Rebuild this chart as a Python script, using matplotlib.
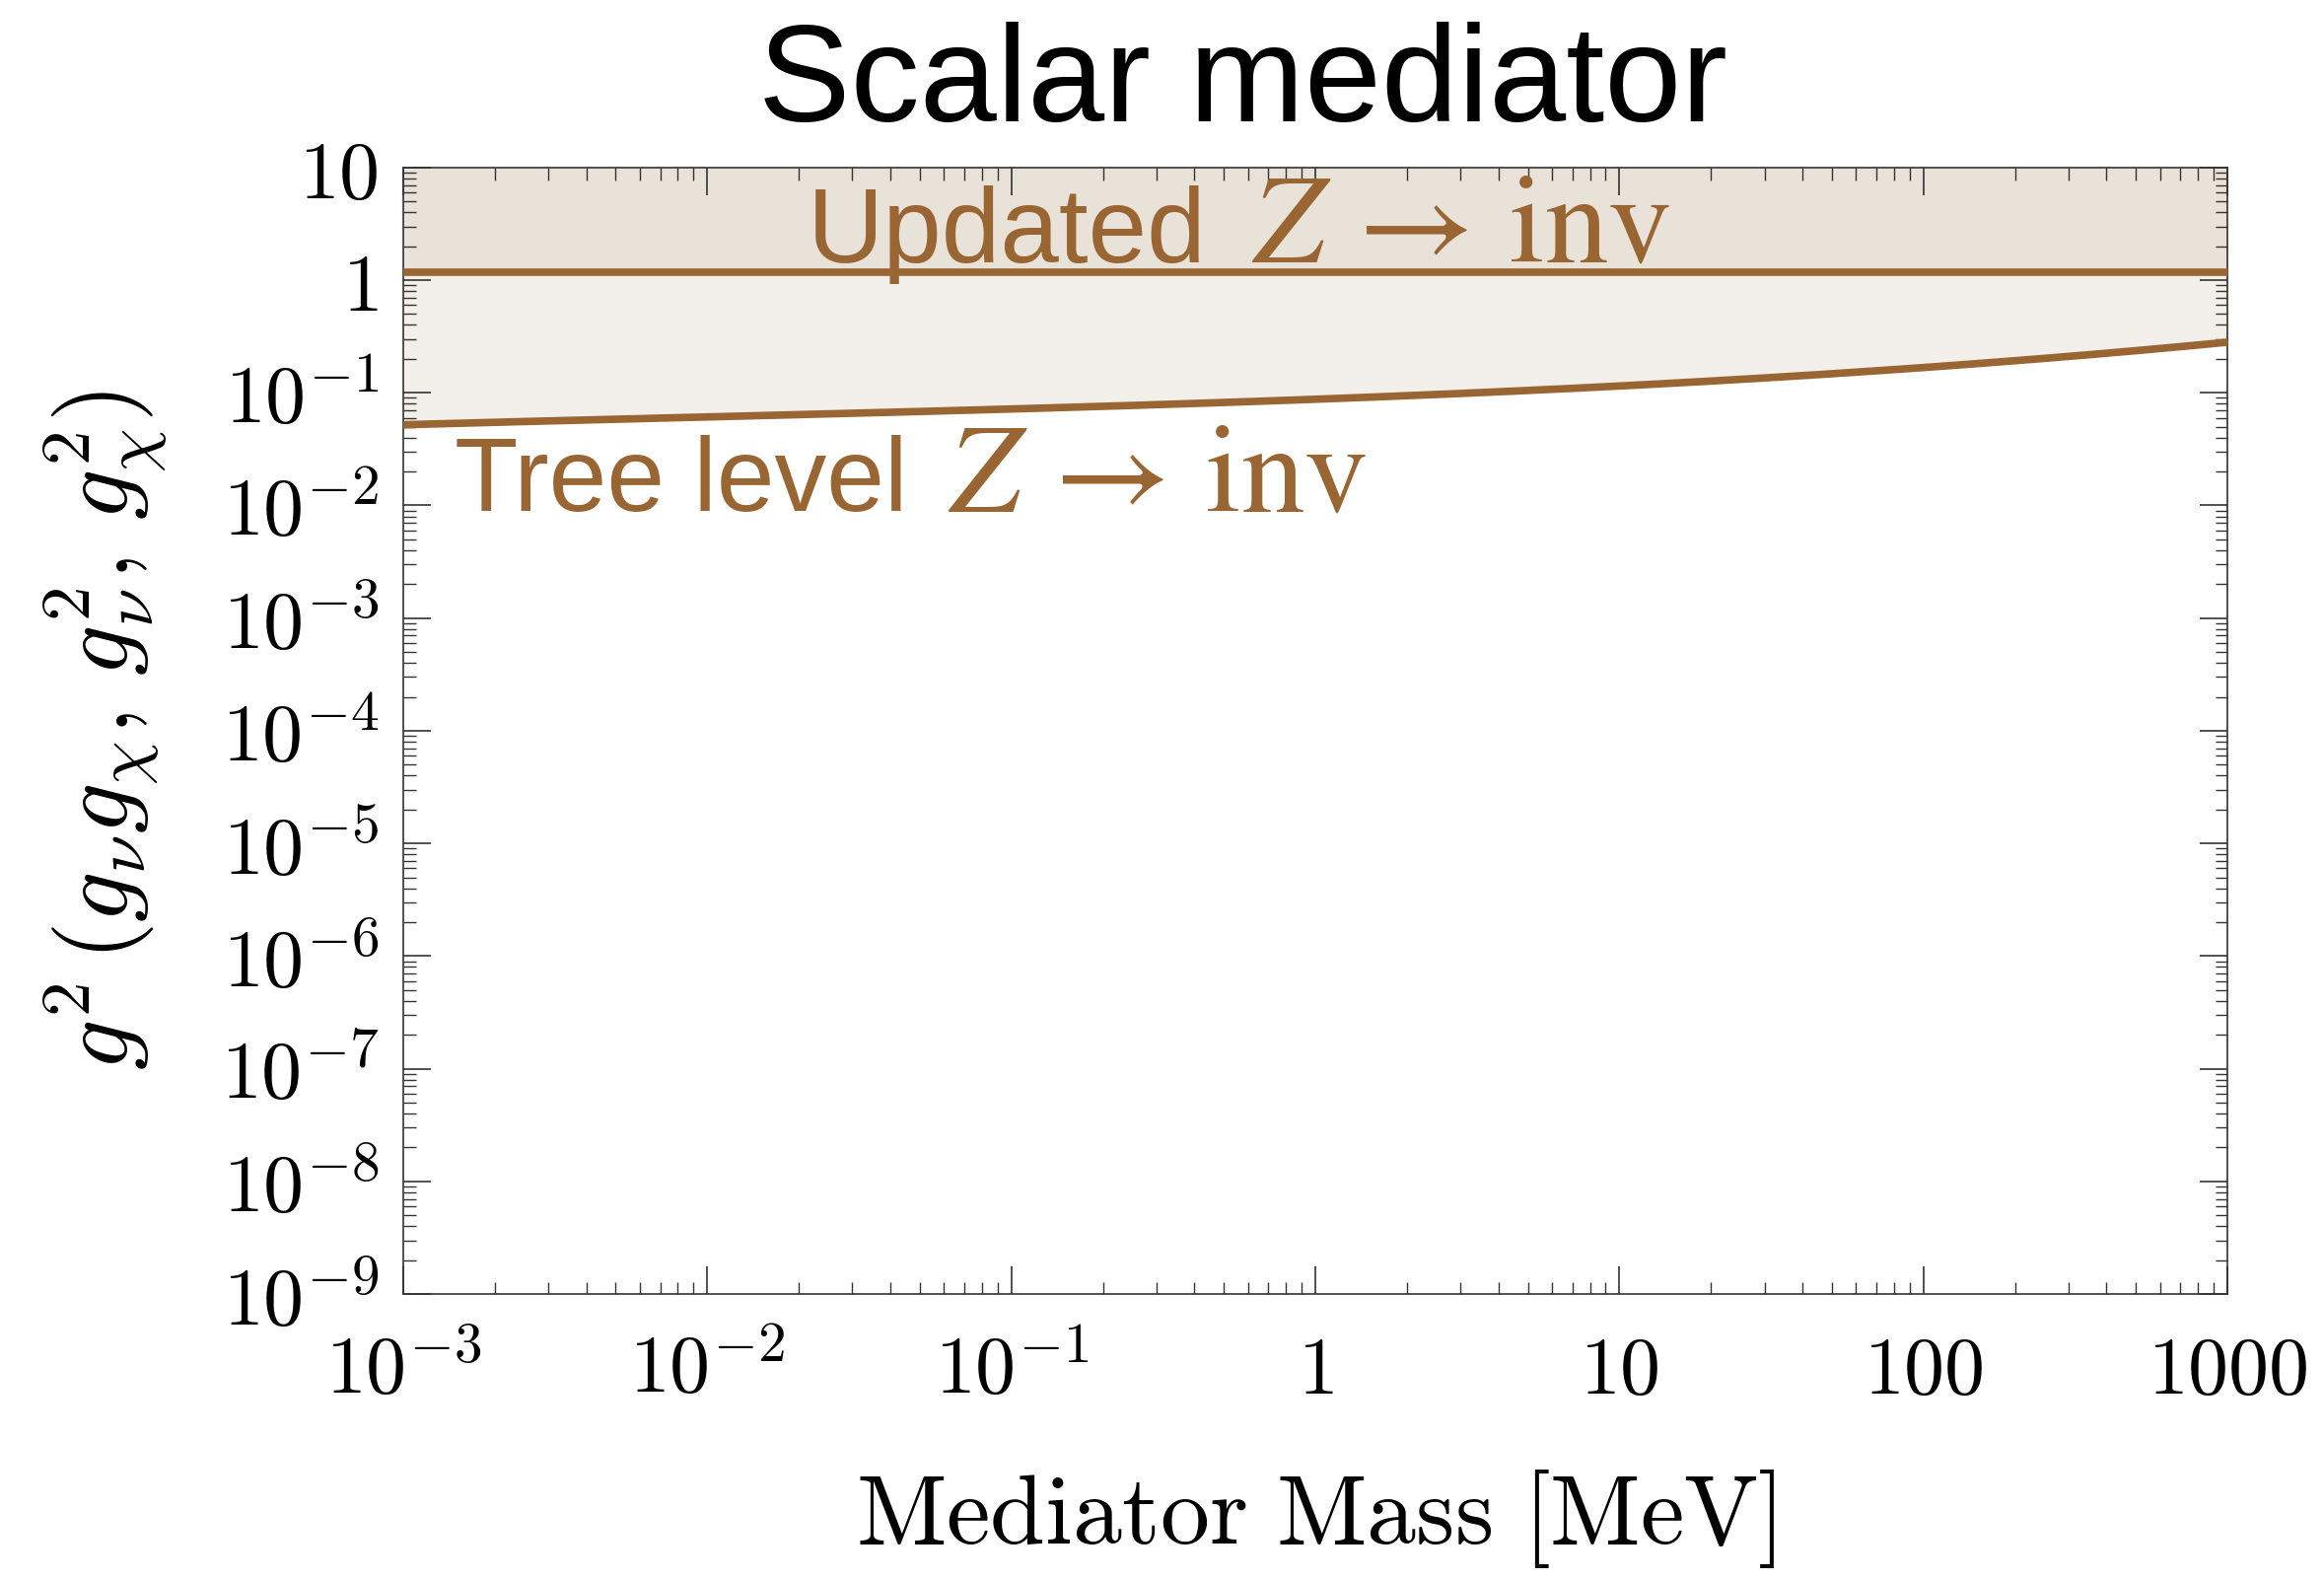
import numpy as np
import matplotlib
matplotlib.use("Agg")
import matplotlib.pyplot as plt
from matplotlib.ticker import LogLocator, FixedLocator, FixedFormatter, NullFormatter

plt.rcParams['mathtext.fontset'] = 'cm'
plt.rcParams['font.family'] = 'DejaVu Sans'

# Z -> inv bounds on the scalar coupling
mass_mev = [1e-3, 1e-2, 1e-1, 1.0, 10.0, 100.0, 1000.0]
tree_level_g2 = [0.052, 0.061, 0.072, 0.088, 0.113, 0.170, 0.28]
updated_g2 = 1.17

xtick_vals = [1e-3, 1e-2, 1e-1, 1, 10, 100, 1000]
xtick_text = [r'$10^{-3}$', r'$10^{-2}$', r'$10^{-1}$', r'$1$', r'$10$', r'$100$', r'$1000$']
ytick_vals = [1e-9, 1e-8, 1e-7, 1e-6, 1e-5, 1e-4, 1e-3, 1e-2, 1e-1, 1, 10]
ytick_text = [r'$10^{-%d}$' % k for k in range(9, 0, -1)] + [r'$1$', r'$10$']

brown = '#996633'

fig = plt.figure(figsize=(23.57, 16.02), dpi=100)
ax = fig.add_axes([0.1735, 0.181, 0.785, 0.713])

# smooth curve through the read-off points (log-log fit)
lx = np.log10(mass_mev)
ly = np.log10(tree_level_g2)
xs = np.linspace(lx[0], lx[-1], 400)
coef = np.polyfit(lx, ly, 3)
m = 10 ** xs
g = 10 ** np.polyval(coef, xs)

ax.fill_between(m, g, updated_g2, color='#f3efea', lw=0, zorder=1)
ax.fill_between(m, updated_g2, 10, color='#e9e2d8', lw=0, zorder=1)
ax.plot(m, g, color=brown, lw=5.5, zorder=3)
ax.axhline(updated_g2, color=brown, lw=5.5, zorder=3)

ax.set_xscale('log')
ax.set_yscale('log')
ax.set_xlim(1e-3, 1000)
ax.set_ylim(1e-9, 10)

ax.xaxis.set_major_locator(FixedLocator(xtick_vals))
ax.xaxis.set_major_formatter(FixedFormatter(xtick_text))
ax.yaxis.set_major_locator(FixedLocator(ytick_vals))
ax.yaxis.set_major_formatter(FixedFormatter(ytick_text))
ax.xaxis.set_minor_locator(LogLocator(base=10, subs=np.arange(2, 10), numticks=100))
ax.yaxis.set_minor_locator(LogLocator(base=10, subs=np.arange(2, 10), numticks=100))
ax.xaxis.set_minor_formatter(NullFormatter())
ax.yaxis.set_minor_formatter(NullFormatter())

ax.tick_params(which='both', direction='in', top=True, right=True, color='#333333')
ax.tick_params(which='major', length=20, width=1.2, labelsize=59, pad=18)
ax.tick_params(axis='x', which='major', pad=28)
ax.tick_params(which='minor', length=9, width=1.0)
for s in ax.spines.values():
    s.set_linewidth(1.2)
    s.set_color('#333333')

ax.set_xlabel(r'$\mathrm{Mediator\ Mass\ [MeV]}$', fontsize=72)
ax.xaxis.label.set_va('baseline')
ax.xaxis.set_label_coords(0.5, -0.2215)
ax.set_ylabel(r'$g^2\,(g_\nu g_\chi,\,g_\nu^2,\,g_\chi^2)$', fontsize=73)
ax.yaxis.set_label_coords(-0.128, 0.5)

# band labels: sans text followed by a Times-style math part
zinv = r'$Z\,\rightarrow\,\mathrm{inv}$'
ax.text(0.2216, 0.916, 'Updated', transform=ax.transAxes,
        ha='left', va='baseline', fontsize=77, color=brown,
        family='Liberation Sans', zorder=4)
ax.text(0.4654, 0.916, zinv, transform=ax.transAxes,
        ha='left', va='baseline', fontsize=93, color=brown,
        math_fontfamily='stix', zorder=4)
ax.text(0.0281, 0.695, 'Tree level', transform=ax.transAxes,
        ha='left', va='baseline', fontsize=76, color=brown,
        family='Liberation Sans', zorder=4)
ax.text(0.299, 0.695, zinv, transform=ax.transAxes,
        ha='left', va='baseline', fontsize=93, color=brown,
        math_fontfamily='stix', zorder=4)

fig.text(0.5346, 0.923, 'Scalar mediator', ha='center', va='baseline',
         fontsize=101, family='Liberation Sans')

fig.savefig('out.png', dpi=100)
